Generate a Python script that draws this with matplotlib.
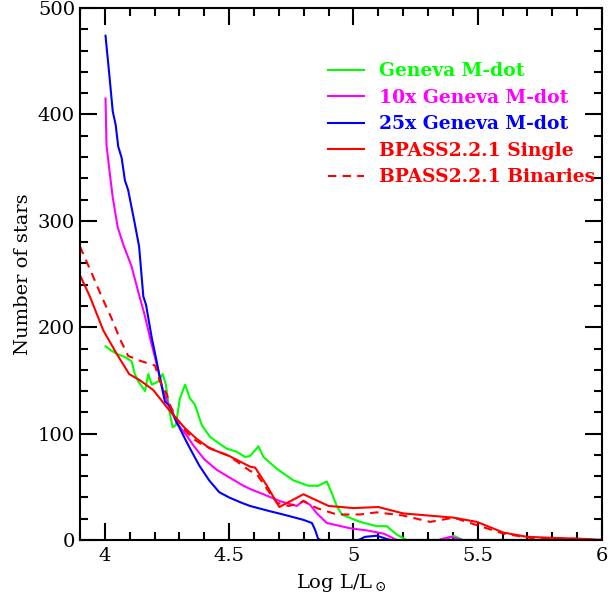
import numpy as np
from matplotlib import pyplot as plt
from matplotlib.ticker import MultipleLocator

plt.rcParams['font.family'] = ['DejaVu Serif']
plt.rcParams['mathtext.fontset'] = 'dejavuserif'

# Geneva M-dot
x_gen = [4.003, 4.027, 4.048, 4.081, 4.108, 4.121, 4.135, 4.162, 4.175, 4.189, 4.215, 4.233,
         4.246, 4.26, 4.273, 4.286, 4.302, 4.323, 4.343, 4.363, 4.39, 4.423, 4.464, 4.49,
         4.53, 4.565, 4.584, 4.618, 4.638, 4.692, 4.759, 4.819, 4.859, 4.893, 4.906, 4.933,
         4.953, 5.027, 5.094, 5.134, 5.175, 5.215, 5.37, 5.403, 5.44, 6.0]
y_gen = [182, 178, 175, 172, 168, 156, 149, 140, 156, 146, 149, 156,
         146, 121, 106, 108, 133, 146, 133, 127, 108, 97, 90, 86,
         83, 78, 79, 88, 78, 67, 56, 51, 51, 55, 48, 32,
         24, 17, 13, 13, 5, 0, 0, 4, 0, 0]

# 10x Geneva M-dot
x_10 = [4.003, 4.007, 4.021, 4.032, 4.052, 4.074, 4.108, 4.135, 4.162, 4.182, 4.209, 4.235,
        4.262, 4.289, 4.33, 4.356, 4.4, 4.45, 4.5, 4.55, 4.584, 4.638, 4.705, 4.772,
        4.799, 4.826, 4.853, 4.893, 4.987, 5.054, 5.121, 5.175, 5.34, 5.39, 5.44, 6.0]
y_10 = [415, 371, 343, 322, 294, 278, 257, 233, 210, 190, 165, 140,
        124, 110, 98, 89, 76, 66, 59, 52, 48, 43, 36.5, 32,
        37, 33, 25, 16, 11, 9, 6, 0, 0, 3, 0, 0]

# 25x Geneva M-dot
x_25 = [4.003, 4.018, 4.032, 4.044, 4.054, 4.068, 4.081, 4.094, 4.121, 4.138, 4.155, 4.166,
        4.189, 4.206, 4.222, 4.242, 4.262, 4.289, 4.323, 4.343, 4.38, 4.42, 4.46, 4.5,
        4.55, 4.584, 4.665, 4.717, 4.798, 4.833, 4.846, 4.858, 4.87, 5.02, 5.047, 5.094,
        5.134, 5.15, 6.0]
y_25 = [474, 438, 403, 390, 370, 359, 338, 329, 297, 276, 229, 221,
        190, 171, 152, 130, 126, 111, 95, 86, 70, 56, 45, 40,
        35, 32, 27, 24, 19, 16, 9.5, 1, 0, 0, 3, 4,
        1, 0, 0]

# BPASS2.2.1 Single
x_sin = [3.9, 3.94, 3.994, 4.048, 4.098, 4.142, 4.195, 4.249, 4.289, 4.323, 4.37, 4.423,
         4.5, 4.584, 4.605, 4.652, 4.702, 4.799, 4.9, 5.0, 5.1, 5.2, 5.403, 5.497,
         5.603, 5.698, 5.8, 5.93, 6.0]
y_sin = [249, 229, 197, 175, 156, 150, 141, 125, 114, 105, 95, 86,
         79, 69, 68, 51, 31, 43, 32, 30, 31, 25, 21, 17,
         7, 3, 2, 1, 0]

# BPASS2.2.1 Binaries
x_bin = [3.9, 3.947, 3.987, 4.028, 4.061, 4.094, 4.148, 4.202, 4.222, 4.249, 4.262, 4.289,
         4.323, 4.356, 4.396, 4.5, 4.584, 4.611, 4.652, 4.692, 4.739, 4.779, 4.799, 4.853,
         4.933, 5.027, 5.094, 5.2, 5.309, 5.403, 5.51, 5.603, 5.71, 5.93, 6.0]
y_bin = [276, 251, 229, 208, 189, 173, 168, 164, 149, 137, 127, 114,
         103, 95, 89, 79, 65, 62, 48, 35, 32, 34, 36.5, 30,
         24, 24, 26, 23, 17, 21, 13, 6, 2, 1, 0]

fig = plt.figure(figsize=(6.1, 5.99), dpi=100)
ax = fig.add_axes([0.131, 0.0985, 0.856, 0.888])

lw = 1.5
ax.plot(x_gen, y_gen, color='#00ff00', lw=lw, label='Geneva M-dot')
ax.plot(x_10, y_10, color='#ff00ff', lw=lw, label='10x Geneva M-dot')
ax.plot(x_25, y_25, color='#0000ff', lw=lw, label='25x Geneva M-dot')
ax.plot(x_sin, y_sin, color='#ff0000', lw=lw, label='BPASS2.2.1 Single')
ax.plot(x_bin, y_bin, color='#ff0000', lw=lw, ls=(0, (4, 3)), label='BPASS2.2.1 Binaries')

ax.set_xlim(3.9, 6.0)
ax.set_ylim(0, 500)
ax.xaxis.set_major_locator(MultipleLocator(0.5))
ax.xaxis.set_minor_locator(MultipleLocator(0.1))
ax.yaxis.set_major_locator(MultipleLocator(100))
ax.yaxis.set_minor_locator(MultipleLocator(20))
ax.set_xticks([4, 4.5, 5, 5.5, 6])
ax.set_xticklabels(['4', '4.5', '5', '5.5', '6'])
ax.tick_params(which='both', direction='in', top=True, right=True, width=1.5, labelsize=14)
ax.tick_params(which='major', length=12)
ax.tick_params(which='minor', length=6)
ax.tick_params(axis='x', pad=5)
for s in ax.spines.values():
    s.set_linewidth(1.5)

ax.set_xlabel(r'Log L/L$_\odot$', fontsize=14, labelpad=5)
ax.set_ylabel('Number of stars', fontsize=14, labelpad=4)

leg = ax.legend(loc='upper left', bbox_to_anchor=(0.475, 0.898), frameon=False,
                prop={'size': 13.5, 'weight': 'bold'}, borderaxespad=0, borderpad=0,
                labelcolor='linecolor', handlelength=1.9, handletextpad=0.8, labelspacing=0.45)

fig.savefig('out.png', dpi=100)
